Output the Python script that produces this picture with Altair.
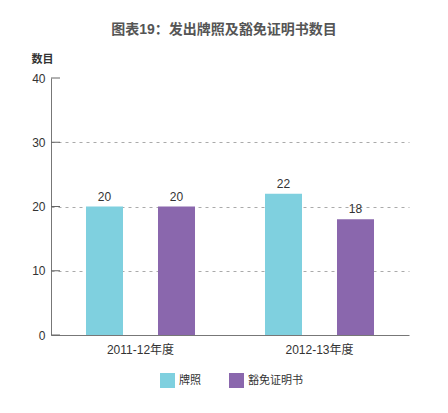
import altair as alt
import pandas as pd

# chart values
years = ["2011-12年度", "2012-13年度"]
series = ["牌照", "豁免证明书"]
licences = [20, 22]
exemptions = [20, 18]
y_ticks = [0, 10, 20, 30, 40]
colors = ["#7FD0DF", "#8A67AD"]

FONT = "Liberation Sans, Arial, Noto Sans CJK SC"

rows = []
for i, year in enumerate(years):
    rows.append({"年度": year, "类别": series[0], "数目": licences[i]})
    rows.append({"年度": year, "类别": series[1], "数目": exemptions[i]})
df = pd.DataFrame(rows)
ticks_df = pd.DataFrame({"tick": y_ticks})

y_scale = alt.Scale(domain=[0, 40], nice=False)

x_enc = alt.X(
    "年度:N", sort=years,
    scale=alt.Scale(paddingInner=0, paddingOuter=0),
    axis=alt.Axis(title=None, ticks=False, labelAngle=0, labelPadding=9,
                  labelFontSize=12, labelColor="#333", domainColor="#777",
                  labelFont=FONT),
)
offset_enc = alt.XOffset(
    "类别:N", sort=series,
    scale=alt.Scale(paddingInner=0.486, paddingOuter=0.486),
)

bars = alt.Chart(df).mark_bar().encode(
    x=x_enc,
    xOffset=offset_enc,
    y=alt.Y(
        "数目:Q", scale=y_scale,
        axis=alt.Axis(
            values=y_ticks, ticks=False, labelPadding=6, labelFontSize=12,
            labelColor="#333", labelFont=FONT, domainColor="#777",
            gridColor="#aaa", gridDash=[3, 4],
            gridOpacity={"condition": {"test": "datum.value === 0 || datum.value === 40", "value": 0}, "value": 1},
            title="数目", titleAngle=0, titleAlign="left", titleBaseline="alphabetic",
            titleX=-20, titleY=-16, titleFontSize=11, titleFontWeight="bold",
            titleColor="#333", titleFont=FONT,
        ),
    ),
    color=alt.Color(
        "类别:N", sort=series,
        scale=alt.Scale(domain=series, range=colors),
        legend=alt.Legend(
            title=None, orient="none", direction="horizontal",
            legendX=109, legendY=295, symbolType="square", symbolSize=225,
            symbolStrokeWidth=0, labelFontSize=11, labelColor="#333",
            labelFont=FONT, labelOffset=4, columnPadding=28,
        ),
    ),
)

labels = alt.Chart(df).mark_text(
    baseline="alphabetic", dy=-6, fontSize=12, color="#333", font=FONT
).encode(
    x=alt.X("年度:N", sort=years),
    xOffset=alt.XOffset("类别:N", sort=series),
    y=alt.Y("数目:Q", scale=y_scale),
    text="数目:Q",
)

# short inward tick marks on the y axis
ticks = alt.Chart(ticks_df).mark_rule(color="#666", strokeWidth=1).encode(
    y=alt.Y("tick:Q", scale=y_scale),
    x=alt.value(0),
    x2=alt.value(9),
)

chart = alt.layer(bars, labels, ticks).properties(
    width=358,
    height=257,
    autosize=alt.AutoSizeParams(type="none"),
    padding={"left": 43, "top": 70, "right": 31, "bottom": 70},
    title=alt.TitleParams(
        "图表19：发出牌照及豁免证明书数目", anchor="middle", dx=-6,
        fontSize=14, fontWeight="bold", color="#555", font=FONT, offset=16,
    ),
).configure_view(stroke=None)

chart.save("out.html", embed_options={"renderer": "svg", "actions": False})
